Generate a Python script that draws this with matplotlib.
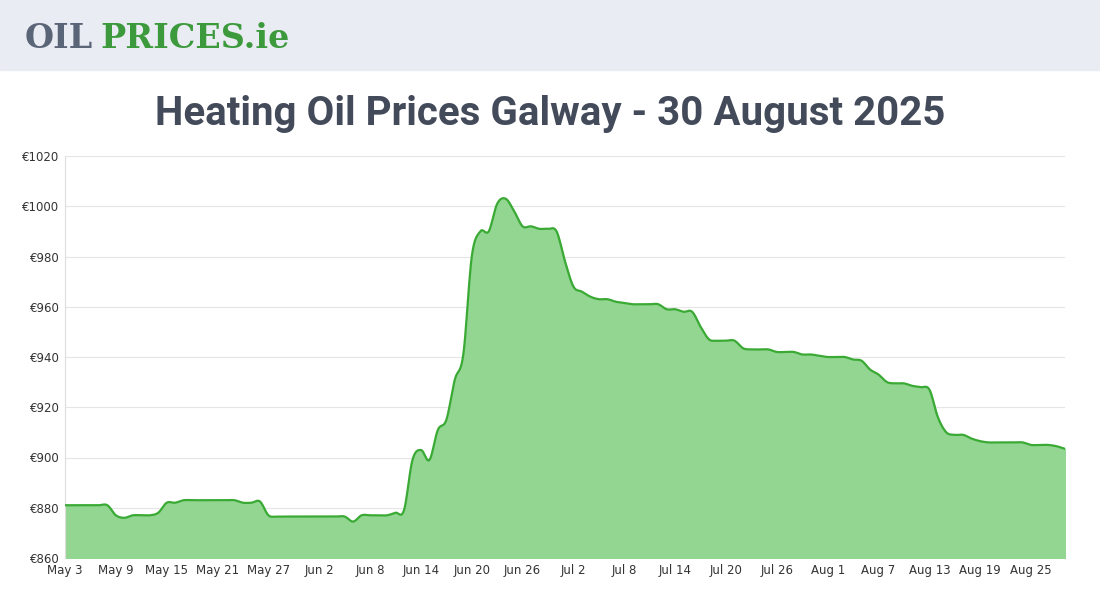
import matplotlib
matplotlib.use("Agg")
import matplotlib.pyplot as plt
import numpy as np
import datetime as dt

may = [881,881,881,881,881,881,877,876,877,877,877,878,882,882,883,883,883,883,883,883,883,882,882,882.5,877,876.5,876.5,876.5,876.5]
jun = [876.5,876.5,876.5,876.5,876.5,874.5,877,877,877,877,878,879,899,903,899,911,915,931,941,980,990,990,1001,1003,998,992,992,991,991,990]
jul = [978,968,966,964,963,963,962,961.5,961,961,961,961,959,959,958,958,952,947,946.5,946.5,946.5,943.5,943,943,943,942,942,942,941,941,940.5]
aug = [940,940,940,939,938.5,935,933,930,929.5,929.5,928.5,928,927,916,910,909,909,907.5,906.5,906,906,906,906,906,905,905,905,904.5,903.5]
values = may + jun + jul + aug
start = dt.date(2025, 5, 3)
tick_labels = ["May 3","May 9","May 15","May 21","May 27","Jun 2","Jun 8","Jun 14","Jun 20","Jun 26","Jul 2","Jul 8","Jul 14","Jul 20","Jul 26","Aug 1","Aug 7","Aug 13","Aug 19","Aug 25"]
y_ticks = [860,880,900,920,940,960,980,1000,1020]

x = np.arange(len(values))
v = np.array(values, float)
xs, ys = [], []
for i in range(len(v)-1):
    p0 = v[max(i-1,0)]; p1 = v[i]; p2 = v[i+1]; p3 = v[min(i+2,len(v)-1)]
    for t in np.linspace(0,1,10,endpoint=False):
        xs.append(i+t)
        ys.append(0.5*((2*p1)+(-p0+p2)*t+(2*p0-5*p1+4*p2-p3)*t*t+(-p0+3*p1-3*p2+p3)*t**3))
xs.append(x[-1]); ys.append(v[-1])

fig = plt.figure(figsize=(11,6), dpi=100)
fig.patches.append(plt.Rectangle((0,530/600),1,70/600,transform=fig.transFigure,color="#e9ecf3",zorder=0))
fig.text(0.022,0.935,"OIL",fontsize=24,fontweight="bold",color="#5a6577",family="DejaVu Serif",va="center")
fig.text(0.091,0.935,"PRICES.ie",fontsize=24,fontweight="bold",color="#3c9a3c",family="DejaVu Serif",va="center")
fig.text(0.5,0.81,"Heating Oil Prices Galway - 30 August 2025",ha="center",va="center",fontsize=29,fontweight="bold",color="#434a5a",family=["Roboto","DejaVu Sans"])

ax = fig.add_axes([65/1100, 42/600, 1000/1100, 402/600])
ax.fill_between(xs, 860, ys, color="#92d692", zorder=2)
ax.plot(xs, ys, color="#3aaa35", lw=1.6, zorder=3)
ax.set_xlim(0, len(values)-1)
ax.set_ylim(860,1020)
ax.set_yticks(y_ticks)
ax.set_yticklabels([f"€{t}" for t in y_ticks])
ax.set_xticks(np.arange(0, len(values), 6)[:len(tick_labels)])
ax.set_xticklabels(tick_labels)
ax.tick_params(labelsize=8.5, colors="#333333", length=0, pad=4)
ax.grid(axis="y", color="#e5e5e5", lw=0.8, zorder=0)
for s in ["top","right","bottom"]:
    ax.spines[s].set_visible(False)
ax.spines["left"].set_color("#dddddd")
fig.savefig("out.png", dpi=100)
